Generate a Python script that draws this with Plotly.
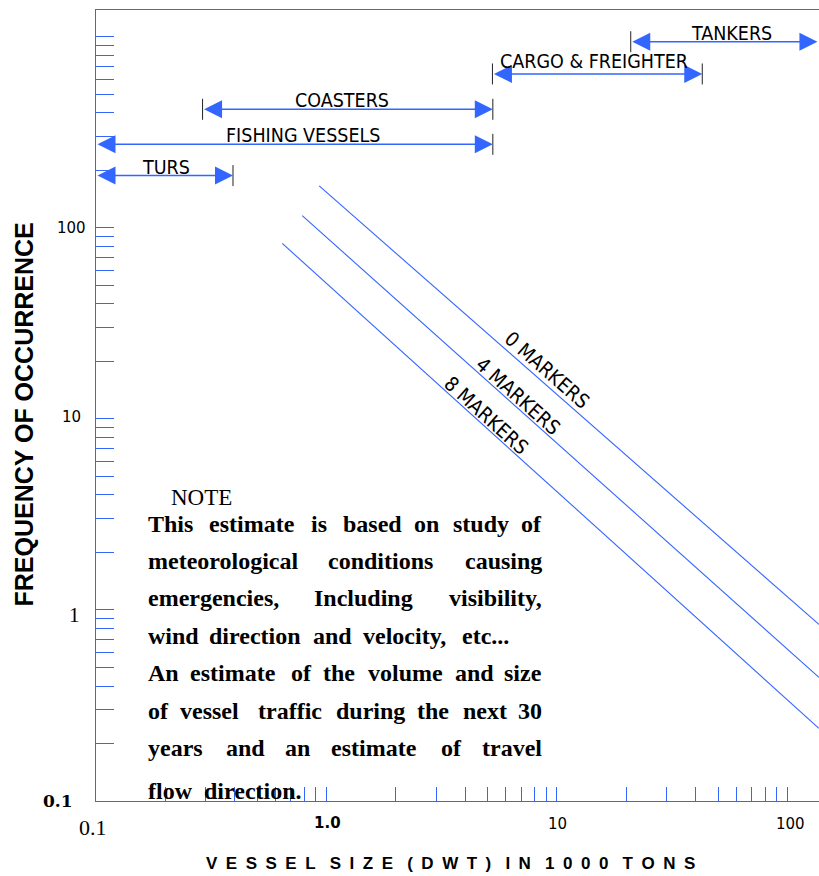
import math
import plotly.graph_objects as go

# ---------------- data ----------------
LINE_NAMES = ["0 MARKERS", "4 MARKERS", "8 MARKERS"]
LINE_X = [[0.93, 137.0], [0.785, 137.0], [0.643, 137.0]]
LINE_Y = [[166.0, 0.84], [116.0, 0.444], [83.0, 0.24]]
LINE_LABEL_X = [9.06, 6.78, 4.97]
LINE_LABEL_Y = [18.1, 13.2, 10.4]

RANGE_NAMES = ["TURS", "FISHING VESSELS", "COASTERS", "CARGO & FREIGHTER", "TANKERS"]
RANGE_START = [0.1, 0.1, 0.29, 5.25, 20.9]
RANGE_END = [0.393, 5.27, 5.27, 42.7, 135.0]
RANGE_LEVEL = [188, 274, 418, 640, 944]
RANGE_START_TICK = [False, False, True, True, True]
RANGE_END_TICK = [True, True, True, True, False]

X_TICK_VALUES = [0.1, 1, 10, 100]
X_TICK_LABELS = ["0.1", "1.0", "10", "100"]
Y_TICK_VALUES = [0.1, 1, 10, 100]
Y_TICK_LABELS = ["0.1", "1", "10", "100"]

NOTE_TITLE = "NOTE"
NOTE_LINES = [
    "This estimate is based on study of",
    "meteorological conditions causing",
    "emergencies, Including visibility,",
    "wind direction and velocity, etc...",
    "An estimate of the volume and size",
    "of vessel traffic during the next 30",
    "years and an estimate of travel",
    "flow direction.",
]
NOTE_JUSTIFIED = [True, True, True, False, True, True, True, False]

X_TITLE = "VESSEL SIZE (DWT) IN 1000 TONS"
Y_TITLE = "FREQUENCY OF OCCURRENCE"

# ---------------- layout constants ----------------
BLUE = "#3366ff"
W, H = 819, 876
ML, MR, MT, MB = 96, 0, 10, 75
PW, PH = W - ML - MR, H - MT - MB
XR = [-1, 2.137]
YR = [-1, 3.141]
NARROW = "Liberation Sans Narrow, DejaVu Sans Condensed, Arial Narrow, sans-serif"


def px_x(p):
    return (p - ML) / PW


def px_y(p):
    return (H - MB - p) / PH


# word left positions (px) of the note lines, and line centres (px)
NOTE_WORD_X = [
    [146.7, 208.3, 310, 341.7, 413.3, 451.7, 520],
    [146.7, 326.7, 461.7],
    [146.7, 313.3, 443.3],
    [146.7, 208.3, 311.7, 361.7, 460.7],
    [146.7, 189.3, 290, 321.7, 366.7, 454, 503.3],
    [146.7, 179.3, 257.3, 335, 416, 461.7, 520],
    [146.7, 225, 284, 330, 440, 481.7],
    [146.7, 203.3],
]
NOTE_LINE_Y = [524, 561, 598, 635.5, 673, 710.5, 748, 791]
NOTE_RIGHT = 543

minor = lambda lo, hi: [m * 10 ** k for k in range(lo, hi) for m in range(1, 10)]
x_ticks = [v for v in minor(-1, 3) if v <= 137]
y_ticks = minor(-1, 3) + [1000]

fig = go.Figure()

# marker lines
for name, xs, ys in zip(LINE_NAMES, LINE_X, LINE_Y):
    fig.add_trace(go.Scatter(x=xs, y=ys, mode="lines", name=name,
                             line=dict(color=BLUE, width=1.1),
                             showlegend=False, hoverinfo="skip"))

# end ticks for the ranges
tx, ty = [], []
f = 10 ** (10.5 / (PH / (YR[1] - YR[0])))
for s, e, lv, st, et in zip(RANGE_START, RANGE_END, RANGE_LEVEL, RANGE_START_TICK, RANGE_END_TICK):
    if st:
        tx += [s, s, None]
        ty += [lv / f, lv * f, None]
    if et:
        tx += [e, e, None]
        ty += [lv / f, lv * f, None]
fig.add_trace(go.Scatter(x=tx, y=ty, mode="lines", line=dict(color="#222222", width=1),
                         showlegend=False, hoverinfo="skip"))

ann = []
# range arrows + labels
label_dx = [1, 9, -6, -3, 7]
label_dy = [8, 9, 9, 12, 8]
for name, s, e, lv, dx, dy in zip(RANGE_NAMES, RANGE_START, RANGE_END, RANGE_LEVEL, label_dx, label_dy):
    ann.append(dict(x=math.log10(e), y=math.log10(lv), ax=math.log10(s), ay=math.log10(lv),
                    xref="x", yref="y", axref="x", ayref="y", text="", showarrow=True,
                    arrowhead=2, startarrowhead=2, arrowside="end+start",
                    arrowsize=2.4, startarrowsize=2.4, arrowwidth=1.5, arrowcolor=BLUE,
                    standoff=0, startstandoff=0))
    ann.append(dict(x=(math.log10(s) + math.log10(e)) / 2, y=math.log10(lv), xref="x", yref="y",
                    text=name, showarrow=False, xanchor="center", yanchor="middle",
                    xshift=dx, yshift=dy,
                    font=dict(family=NARROW, size=19.5, color="black")))

# marker labels
angles = [41.3, 41.8, 42.1]
for name, lx, ly, a in zip(LINE_NAMES, LINE_LABEL_X, LINE_LABEL_Y, angles):
    ann.append(dict(x=math.log10(lx), y=math.log10(ly), xref="x", yref="y", text=name,
                    showarrow=False, textangle=a, xanchor="center", yanchor="middle",
                    font=dict(family=NARROW, size=20, color="black")))

# tick labels
x_lab_style = [
    dict(family="Liberation Serif, serif", size=22, shift=(-3, -26)),
    dict(family="DejaVu Sans, sans-serif", size=15, shift=(1, -22), bold=True),
    dict(family="DejaVu Sans, sans-serif", size=15, shift=(1, -23)),
    dict(family="DejaVu Sans, sans-serif", size=15, shift=(3, -23)),
]
for v, t, st in zip(X_TICK_VALUES, X_TICK_LABELS, x_lab_style):
    ann.append(dict(x=math.log10(v), y=0, xref="x", yref="paper",
                    text=("<b>%s</b>" % t) if st.get("bold") else t, showarrow=False,
                    xanchor="center", yanchor="middle", xshift=st["shift"][0], yshift=st["shift"][1],
                    font=dict(family=st["family"], size=st["size"], color="black")))
y_lab_style = [
    dict(family="DejaVu Serif, serif", size=17, shift=(-38, 0), bold=True),
    dict(family="Liberation Serif, serif", size=21, shift=(-22, -5)),
    dict(family="DejaVu Sans, sans-serif", size=15, shift=(-25, 2)),
    dict(family="DejaVu Sans, sans-serif", size=15, shift=(-25, 0)),
]
for v, t, st in zip(Y_TICK_VALUES, Y_TICK_LABELS, y_lab_style):
    ann.append(dict(x=0, y=math.log10(v), xref="paper", yref="y",
                    text=("<b>%s</b>" % t) if st.get("bold") else t, showarrow=False,
                    xanchor="center", yanchor="middle", xshift=st["shift"][0], yshift=st["shift"][1],
                    font=dict(family=st["family"], size=st["size"], color="black")))

# axis titles
sp = "\u2002"
x_title = (sp + "\u2004").join(sp.join(list(w)) for w in X_TITLE.split(" "))
ann.append(dict(x=px_x(450.5), y=px_y(863), xref="paper", yref="paper", text="<b>%s</b>" % x_title,
                showarrow=False, xanchor="center", yanchor="middle",
                font=dict(family="Liberation Sans, Arial, sans-serif", size=17, color="black")))
ann.append(dict(x=px_x(23.5), y=px_y(415), xref="paper", yref="paper", text="<b>%s</b>" % Y_TITLE,
                showarrow=False, textangle=-90, xanchor="center", yanchor="middle",
                font=dict(family="Liberation Sans, Arial, sans-serif", size=25, color="black")))

# note
note_font = dict(family="Liberation Serif, Times New Roman, serif", size=24, color="black")
ann.append(dict(x=px_x(201.5), y=px_y(497), xref="paper", yref="paper", text=NOTE_TITLE,
                showarrow=False, xanchor="center", yanchor="middle", borderpad=0,
                font=dict(family="Liberation Serif, Times New Roman, serif", size=23, color="black")))
for line, xs, ly, just in zip(NOTE_LINES, NOTE_WORD_X, NOTE_LINE_Y, NOTE_JUSTIFIED):
    words = line.split(" ")
    for j, (wd, wx) in enumerate(zip(words, xs)):
        last = just and j == len(words) - 1 and j > 0
        ann.append(dict(x=px_x(NOTE_RIGHT if last else wx), y=px_y(ly), xref="paper", yref="paper",
                        text="<b>%s</b>" % wd, showarrow=False, xanchor="right" if last else "left",
                        yanchor="middle", borderpad=0, font=note_font))

fig.update_layout(
    width=W, height=H, margin=dict(l=ML, r=MR, t=MT, b=MB),
    paper_bgcolor="white", plot_bgcolor="white", showlegend=False,
    annotations=ann,
    xaxis=dict(type="log", range=XR, showline=True, linecolor=BLUE, linewidth=1.2, mirror=True,
               ticks="inside", ticklen=14, tickwidth=1, tickcolor=BLUE, tickvals=x_ticks,
               showticklabels=False, showgrid=False, zeroline=False),
    yaxis=dict(type="log", range=YR, showline=True, linecolor=BLUE, linewidth=1.2,
               ticks="inside", ticklen=18, tickwidth=1, tickcolor=BLUE, tickvals=y_ticks,
               showticklabels=False, showgrid=False, zeroline=False),
)

fig.write_html("out.html")
